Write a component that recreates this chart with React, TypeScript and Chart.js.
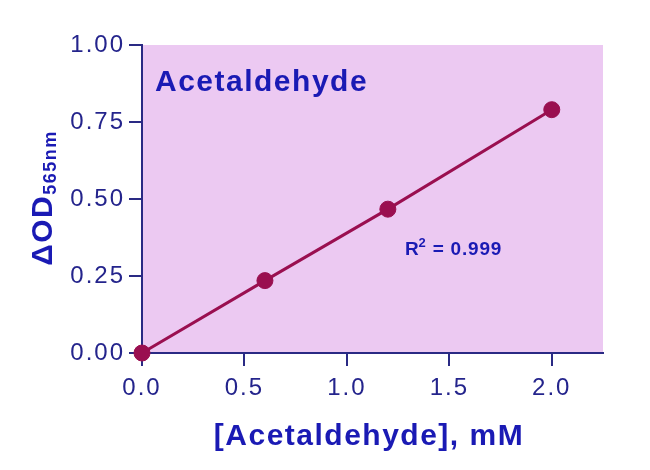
import React, { useEffect, useRef } from "react";
import { Chart, registerables } from "chart.js";

Chart.register(...registerables);

// ---- data ----
const CONCENTRATIONS_MM = [0, 0.6, 1.2, 2.0];
const DELTA_OD = [0, 0.235, 0.467, 0.79];
const X_TICKS = [0, 0.5, 1.0, 1.5, 2.0];
const Y_TICKS = [0, 0.25, 0.5, 0.75, 1.0];
const PANEL_LABEL = "Acetaldehyde";
const X_TITLE = "[Acetaldehyde], mM";
const Y_TITLE_MAIN = "ΔOD";
const Y_TITLE_SUB = "565nm";
const R2_BASE = "R";
const R2_SUP = "2";
const R2_VALUE = " = 0.999";

const FONT = "'Liberation Sans', Arial, Helvetica, sans-serif";
const BG = "#ecc9f2";
const AXIS = "#2a2a84";
const TICK_TEXT = "#24248c";
const TITLE = "#1a1ab4";
const SERIES = "#9a0f50";

const textPlugin = {
  id: "customText",
  beforeDraw(chart: any) {
    const { ctx, chartArea } = chart;
    ctx.save();
    ctx.fillStyle = BG;
    ctx.fillRect(chartArea.left, chartArea.top, chartArea.right - chartArea.left, chartArea.bottom - chartArea.top);
    ctx.restore();
    (ctx as any).letterSpacing = "2px";
  },
  afterDraw(chart: any) {
    const { ctx, chartArea } = chart;
    ctx.save();
    (ctx as any).letterSpacing = "1.5px";
    ctx.fillStyle = TITLE;
    ctx.textBaseline = "alphabetic";

    // panel label
    ctx.font = `bold 30px ${FONT}`;
    ctx.textAlign = "left";
    ctx.fillText(PANEL_LABEL, chartArea.left + 13, chartArea.top + 46);

    // x title
    ctx.textAlign = "center";
    ctx.fillText(X_TITLE, 369, 445);

    // R^2
    ctx.textAlign = "left";
    (ctx as any).letterSpacing = "0.8px";
    ctx.font = `bold 19px ${FONT}`;
    let x = 405;
    ctx.fillText(R2_BASE, x, 255);
    x += ctx.measureText(R2_BASE).width - 1;
    ctx.font = `bold 13px ${FONT}`;
    ctx.fillText(R2_SUP, x, 247);
    x += ctx.measureText(R2_SUP).width;
    ctx.font = `bold 19px ${FONT}`;
    ctx.fillText(R2_VALUE, x, 255);

    // y title rotated
    (ctx as any).letterSpacing = "1.5px";
    ctx.translate(52, 198);
    ctx.rotate(-Math.PI / 2);
    ctx.font = `bold 30px ${FONT}`;
    const wMain = ctx.measureText(Y_TITLE_MAIN).width;
    ctx.font = `bold 18px ${FONT}`;
    const wSub = ctx.measureText(Y_TITLE_SUB).width;
    const start = -(wMain + wSub) / 2;
    ctx.font = `bold 30px ${FONT}`;
    ctx.fillText(Y_TITLE_MAIN, start, 0);
    ctx.font = `bold 18px ${FONT}`;
    ctx.fillText(Y_TITLE_SUB, start + wMain, 4);
    ctx.restore();
    (ctx as any).letterSpacing = "0px";
  },
};

export default function App() {
  const ref = useRef<HTMLCanvasElement | null>(null);
  useEffect(() => {
    if (!ref.current) return;
    const chart = new Chart(ref.current, {
      type: "scatter",
      data: {
        datasets: [
          {
            data: CONCENTRATIONS_MM.map((c, i) => ({ x: c, y: DELTA_OD[i] })),
            showLine: true,
            borderColor: SERIES,
            borderWidth: 3,
            backgroundColor: SERIES,
            pointBackgroundColor: SERIES,
            pointBorderColor: SERIES,
            pointRadius: 8,
            pointBorderWidth: 1,
            clip: false as any,
          },
        ],
      },
      plugins: [textPlugin],
      options: {
        animation: false,
        responsive: true,
        maintainAspectRatio: false,
        layout: { padding: { top: 45, right: 47, left: 0, bottom: 0 } },
        plugins: { legend: { display: false }, tooltip: { enabled: false } },
        scales: {
          x: {
            type: "linear",
            min: 0,
            max: 2.25,
            afterFit: (s: any) => {
              s.height = 117;
            },
            afterBuildTicks: (s: any) => {
              s.ticks = X_TICKS.map((v) => ({ value: v }));
            },
            ticks: {
              color: TICK_TEXT,
              font: { family: FONT, size: 24 },
              padding: 8,
              maxRotation: 0,
              autoSkip: false,
              callback: (v: any) => Number(v).toFixed(1),
            },
            grid: { drawOnChartArea: false, drawTicks: true, tickLength: 13, tickColor: AXIS, lineWidth: 2 },
            border: { display: true, color: AXIS, width: 2 },
          },
          y: {
            type: "linear",
            min: 0,
            max: 1,
            afterFit: (s: any) => {
              s.width = 142;
            },
            afterBuildTicks: (s: any) => {
              s.ticks = Y_TICKS.map((v) => ({ value: v }));
            },
            ticks: {
              color: TICK_TEXT,
              font: { family: FONT, size: 24 },
              padding: 4,
              autoSkip: false,
              callback: (v: any) => Number(v).toFixed(2),
            },
            grid: { drawOnChartArea: false, drawTicks: true, tickLength: 13, tickColor: AXIS, lineWidth: 2 },
            border: { display: true, color: AXIS, width: 2 },
          },
        },
      },
    });
    return () => chart.destroy();
  }, []);
  return (
    <div style={{ position: "fixed", left: 0, top: 0, width: 650, height: 470, background: "#fff" }}>
      <canvas ref={ref} />
    </div>
  );
}
